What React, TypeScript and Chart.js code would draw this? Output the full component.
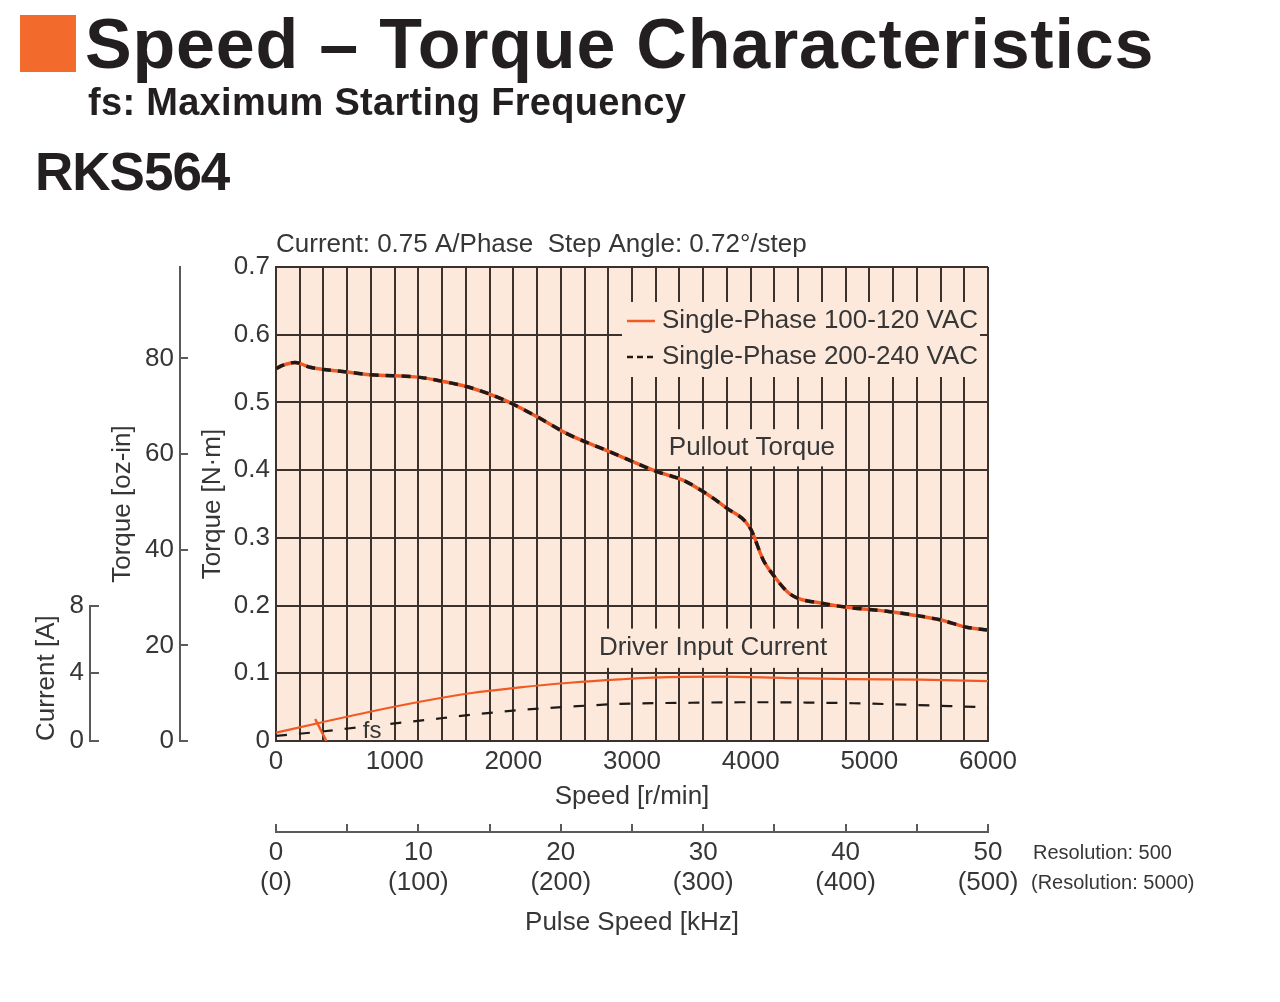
import { useEffect, useRef } from 'react';
import { Chart, registerables } from 'chart.js';

Chart.register(...registerables);

// ---------------- data ----------------
const torqueSpeed = [0, 61, 160, 287, 596, 792, 1213, 1410, 1635, 1917, 2198, 2451, 2815, 3208, 3433, 3602, 3798, 3994, 4107, 4191, 4332, 4613, 4837, 5174, 5595, 5820, 6000];
const pullout100 = [0.550, 0.555, 0.559, 0.552, 0.545, 0.541, 0.537, 0.531, 0.522, 0.504, 0.479, 0.454, 0.427, 0.398, 0.385, 0.368, 0.344, 0.315, 0.267, 0.245, 0.217, 0.203, 0.197, 0.191, 0.179, 0.168, 0.164];
const pullout200 = [0.550, 0.555, 0.559, 0.552, 0.545, 0.541, 0.537, 0.531, 0.522, 0.504, 0.479, 0.454, 0.427, 0.398, 0.385, 0.368, 0.344, 0.315, 0.267, 0.245, 0.217, 0.203, 0.197, 0.191, 0.179, 0.168, 0.164];

const current100Speed = [0, 371, 792, 1213, 1635, 2056, 2478, 2899, 3177, 3742, 4306, 4862, 5427, 6000];
const current100 = [0.49, 1.08, 1.73, 2.32, 2.82, 3.17, 3.44, 3.64, 3.74, 3.80, 3.72, 3.66, 3.62, 3.54];
const current200Speed = [0, 371, 792, 1213, 1635, 2056, 2478, 2899, 3500, 4019, 4862, 6000];
const current200 = [0.30, 0.55, 0.89, 1.20, 1.54, 1.83, 2.03, 2.19, 2.26, 2.29, 2.23, 1.99];

const fsMarkerSpeed = [330, 425];
const fsMarkerCurrent = [1.3, 0];

const seriesLabels = ['Single-Phase 100-120 VAC', 'Single-Phase 200-240 VAC'];
const speedTickLabels = ['0', '1000', '2000', '3000', '4000', '5000', '6000'];
const pulseTickValues = [0, 10, 20, 30, 40, 50];
const pulseTickLabels500 = ['0', '10', '20', '30', '40', '50'];
const pulseTickLabels5000 = ['(0)', '(100)', '(200)', '(300)', '(400)', '(500)'];
const ozTickValues = [0, 20, 40, 60, 80];
const currentTickValues = [0, 4, 8];

const chartNote = 'Current: 0.75 A/Phase  Step Angle: 0.72°/step';
const pulloutLabel = 'Pullout Torque';
const currentLabel = 'Driver Input Current';
const fsLabel = 'fs';
const resolutionNotes = ['Resolution: 500', '(Resolution: 5000)'];

// ---------------- style ----------------
const FONT = "'Liberation Sans', Arial, Helvetica, sans-serif";
const TEXT = '#363636';
const GRID = '#3b322e';
const AXIS = '#5a5a5a';
const BG = '#fde9dc';
const ORANGE = '#f15a24';
const BLACK = '#1f1a17';
const FS = 26;

const NM_TO_OZIN = 141.612;

function boxedText(ctx: any, text: string, cx: number, cy: number, padX: number, padY: number) {
  const w = ctx.measureText(text).width;
  ctx.fillStyle = BG;
  ctx.fillRect(cx - w / 2 - padX, cy - FS * 0.6 - padY, w + padX * 2, FS * 1.2 + padY * 2);
  ctx.fillStyle = TEXT;
  ctx.fillText(text, cx, cy);
}

const annotPlugin = {
  id: 'annot',
  beforeDraw(chart: any) {
    const { ctx, chartArea: a } = chart;
    ctx.save();
    ctx.fillStyle = BG;
    ctx.fillRect(a.left, a.top, a.width, a.height);
    ctx.restore();
  },
  beforeDatasetsDraw(chart: any) {
    const { ctx, chartArea: a, scales } = chart;
    const x = scales.x;
    const y = scales.y;
    ctx.save();
    ctx.font = `${FS}px ${FONT}`;
    ctx.textBaseline = 'middle';
    // legend
    const lx0 = a.right - 366;
    const lx1 = a.right - 8;
    const ly0 = a.top + 35;
    const ly1 = a.top + 110;
    ctx.fillStyle = BG;
    ctx.fillRect(lx0, ly0, lx1 - lx0, ly1 - ly0);
    const ds = chart.data.datasets;
    [0, 1].forEach((i) => {
      const cy = a.top + 54 + i * 36;
      ctx.save();
      ctx.strokeStyle = ds[i].borderColor;
      ctx.lineWidth = 2.5;
      ctx.setLineDash(i === 0 ? [] : [6, 4]);
      ctx.beginPath();
      ctx.moveTo(lx0 + 5, cy);
      ctx.lineTo(lx0 + 33, cy);
      ctx.stroke();
      ctx.restore();
      ctx.fillStyle = TEXT;
      ctx.textAlign = 'left';
      ctx.fillText(ds[i].label, lx0 + 40, cy);
    });
    // curve labels
    ctx.textAlign = 'center';
    boxedText(ctx, pulloutLabel, x.getPixelForValue(4011), y.getPixelForValue(0.433), 8, 3);
    boxedText(ctx, currentLabel, x.getPixelForValue(3683), y.getPixelForValue(0.137), 7, 4);
    ctx.restore();
  },
  afterDatasetsDraw(chart: any) {
    const { ctx, scales } = chart;
    ctx.save();
    ctx.font = `${FS - 2}px ${FONT}`;
    ctx.textBaseline = 'middle';
    ctx.textAlign = 'center';
    const cx = scales.x.getPixelForValue(810);
    const cy = scales.y.getPixelForValue(0.0148);
    const w = ctx.measureText(fsLabel).width;
    ctx.fillStyle = BG;
    ctx.fillRect(cx - w / 2 - 1, cy - 11, w + 2, 20);
    ctx.fillStyle = TEXT;
    ctx.fillText(fsLabel, cx, cy);
    ctx.restore();
  },
  afterDraw(chart: any) {
    const { ctx, chartArea: a, scales } = chart;
    ctx.save();
    ctx.strokeStyle = AXIS;
    ctx.lineWidth = 2;
    // oz-in ticks (pointing right)
    const oz = scales.yOz;
    oz.ticks.forEach((t: any) => {
      const py = Math.round(oz.getPixelForValue(t.value));
      ctx.beginPath();
      ctx.moveTo(oz.right, py);
      ctx.lineTo(oz.right + 8, py);
      ctx.stroke();
    });
    // current axis line + ticks
    const ya = scales.yA;
    const p0 = Math.round(ya.getPixelForValue(0));
    const p8 = Math.round(ya.getPixelForValue(8));
    ctx.beginPath();
    ctx.moveTo(Math.round(ya.right), p0 + 1);
    ctx.lineTo(Math.round(ya.right), p8 - 1);
    ctx.stroke();
    ya.ticks.forEach((t: any) => {
      const py = Math.round(ya.getPixelForValue(t.value));
      ctx.beginPath();
      ctx.moveTo(ya.right, py);
      ctx.lineTo(ya.right + 9, py);
      ctx.stroke();
    });
    // pulse axis ticks (pointing up)
    const xp = scales.xP;
    xp.ticks.forEach((t: any) => {
      const px = Math.round(xp.getPixelForValue(t.value));
      ctx.beginPath();
      ctx.moveTo(px, xp.top);
      ctx.lineTo(px, xp.top - 8);
      ctx.stroke();
    });
    // texts
    ctx.fillStyle = TEXT;
    ctx.textBaseline = 'middle';
    ctx.textAlign = 'left';
    ctx.font = `${FS}px ${FONT}`;
    ctx.fillText(chartNote, a.left, a.top - 22);
    ctx.font = `20px ${FONT}`;
    ctx.fillText(resolutionNotes[0], a.right + 45, xp.top + 21);
    ctx.fillText(resolutionNotes[1], a.right + 43, xp.top + 51);
    ctx.restore();
  },
};

function fitWidth(w: number) {
  return (s: any) => {
    s.width = w;
  };
}
function fitHeight(h: number) {
  return (s: any) => {
    s.height = h;
  };
}

const tickFont = { size: FS, family: FONT, lineHeight: '30px' };
const titleFont = { size: FS, family: FONT, lineHeight: '30px' };

export default function App() {
  const ref = useRef<HTMLCanvasElement>(null);
  useEffect(() => {
    const canvas = ref.current;
    if (!canvas) return;
    Chart.defaults.font.family = FONT;
    Chart.defaults.color = TEXT;
    const chart = new Chart(canvas, {
      type: 'line',
      data: {
        datasets: [
          {
            label: seriesLabels[0],
            data: torqueSpeed.map((s, i) => ({ x: s, y: pullout100[i] })),
            borderColor: ORANGE,
            borderWidth: 3.5,
            pointRadius: 0,
            cubicInterpolationMode: 'monotone',
            yAxisID: 'y',
            order: 2,
          },
          {
            label: seriesLabels[1],
            data: torqueSpeed.map((s, i) => ({ x: s, y: pullout200[i] })),
            borderColor: BLACK,
            borderDash: [9, 7],
            borderWidth: 3.5,
            pointRadius: 0,
            cubicInterpolationMode: 'monotone',
            yAxisID: 'y',
            order: 1,
          },
          {
            label: currentLabel + ' (' + seriesLabels[0] + ')',
            data: current100Speed.map((s, i) => ({ x: s, y: current100[i] })),
            borderColor: ORANGE,
            borderWidth: 2.2,
            pointRadius: 0,
            cubicInterpolationMode: 'monotone',
            yAxisID: 'yA',
            order: 4,
          },
          {
            label: currentLabel + ' (' + seriesLabels[1] + ')',
            data: current200Speed.map((s, i) => ({ x: s, y: current200[i] })),
            borderColor: BLACK,
            borderDash: [11, 12],
            borderWidth: 2.2,
            pointRadius: 0,
            cubicInterpolationMode: 'monotone',
            yAxisID: 'yA',
            order: 3,
          },
          {
            label: fsLabel,
            data: fsMarkerSpeed.map((s, i) => ({ x: s, y: fsMarkerCurrent[i] })),
            borderColor: ORANGE,
            borderWidth: 2.5,
            pointRadius: 0,
            yAxisID: 'yA',
            order: 0,
          },
        ],
      },
      options: {
        animation: false,
        responsive: false,
        maintainAspectRatio: false,
        layout: { padding: { left: 20, top: 267, right: 292, bottom: 60 } },
        plugins: {
          legend: { display: false },
          tooltip: { enabled: false },
          title: { display: false },
        },
        scales: {
          x: {
            type: 'linear',
            position: 'bottom',
            weight: 0,
            min: 0,
            max: 6000,
            afterFit: fitHeight(91),
            ticks: {
              stepSize: 200,
              autoSkip: false,
              maxRotation: 0,
              padding: 6,
              font: tickFont,
              color: TEXT,
              callback: (v: any) => {
                const s = String(v);
                return speedTickLabels.includes(s) ? s : '';
              },
            },
            grid: { color: GRID, lineWidth: 2, drawTicks: false },
            border: { color: GRID, width: 2 },
            title: { display: true, text: 'Speed [r/min]', font: titleFont, color: TEXT, padding: { top: 0, bottom: 20 } },
          },
          xP: {
            type: 'linear',
            position: 'bottom',
            weight: 1,
            min: 0,
            max: 50,
            afterFit: fitHeight(110),
            ticks: {
              stepSize: 5,
              autoSkip: false,
              maxRotation: 0,
              padding: 6,
              font: tickFont,
              color: TEXT,
              callback: (v: any) => {
                const i = pulseTickValues.indexOf(Number(v));
                return i >= 0 ? [pulseTickLabels500[i], pulseTickLabels5000[i]] : '';
              },
            },
            grid: { display: true, drawOnChartArea: false, drawTicks: false },
            border: { color: AXIS, width: 2 },
            title: { display: true, text: 'Pulse Speed [kHz]', font: titleFont, color: TEXT, padding: { top: 0, bottom: 4 } },
          },
          y: {
            type: 'linear',
            position: 'left',
            weight: 0,
            min: 0,
            max: 0.7,
            afterFit: fitWidth(96),
            ticks: {
              stepSize: 0.1,
              padding: 6,
              font: tickFont,
              color: TEXT,
              callback: (v: any) => (Math.abs(v) < 1e-9 ? '0' : Number(v).toFixed(1)),
            },
            grid: { color: GRID, lineWidth: 2, drawTicks: false },
            border: { color: GRID, width: 2 },
            title: { display: true, text: 'Torque [N·m]', font: titleFont, color: TEXT, padding: { top: 18, bottom: 0 } },
          },
          yOz: {
            type: 'linear',
            position: 'left',
            weight: 1,
            min: 0,
            max: 0.7 * NM_TO_OZIN,
            afterFit: fitWidth(90),
            afterBuildTicks: (s: any) => {
              s.ticks = ozTickValues.map((v) => ({ value: v }));
            },
            ticks: { padding: 6, font: tickFont, color: TEXT, callback: (v: any) => String(v) },
            grid: { display: true, drawOnChartArea: false, drawTicks: false },
            border: { color: AXIS, width: 2 },
            title: { display: true, text: 'Torque [oz-in]', font: titleFont, color: TEXT, padding: { top: 18, bottom: 0 } },
          },
          yA: {
            type: 'linear',
            position: 'left',
            weight: 2,
            min: 0,
            max: 28,
            afterFit: fitWidth(70),
            afterBuildTicks: (s: any) => {
              s.ticks = currentTickValues.map((v) => ({ value: v }));
            },
            ticks: { padding: 6, font: tickFont, color: TEXT, callback: (v: any) => String(v) },
            grid: { display: true, drawOnChartArea: false, drawTicks: false },
            border: { display: false },
            title: { display: true, text: 'Current [A]', align: 'start', font: titleFont, color: TEXT, padding: { top: 12, bottom: 0 } },
          },
        },
      } as any,
      plugins: [annotPlugin],
    } as any);
    return () => chart.destroy();
  }, []);

  const head = "'Liberation Sans', Arial, sans-serif";
  return (
    <div style={{ position: 'absolute', left: 0, top: 0, width: 1280, height: 1002, background: '#ffffff', overflow: 'hidden' }}>
      <canvas ref={ref} width={1280} height={1002} style={{ position: 'absolute', left: 0, top: 0, width: 1280, height: 1002 }} />
      <div style={{ position: 'absolute', left: 20, top: 15, width: 56, height: 57, background: '#f26b2c' }} />
      <div style={{ position: 'absolute', left: 85, top: 9, fontFamily: head, fontWeight: 700, fontSize: 70, lineHeight: '70px', letterSpacing: 0.8, color: '#231f20', whiteSpace: 'nowrap' }}>
        Speed – Torque Characteristics
      </div>
      <div style={{ position: 'absolute', left: 88, top: 83, fontFamily: head, fontWeight: 700, fontSize: 38, lineHeight: '38px', letterSpacing: 0.3, color: '#231f20', whiteSpace: 'nowrap' }}>
        fs: Maximum Starting Frequency
      </div>
      <div style={{ position: 'absolute', left: 35, top: 145, fontFamily: head, fontWeight: 700, fontSize: 53, lineHeight: '53px', letterSpacing: -1, color: '#231f20', whiteSpace: 'nowrap' }}>
        RKS564
      </div>
    </div>
  );
}
